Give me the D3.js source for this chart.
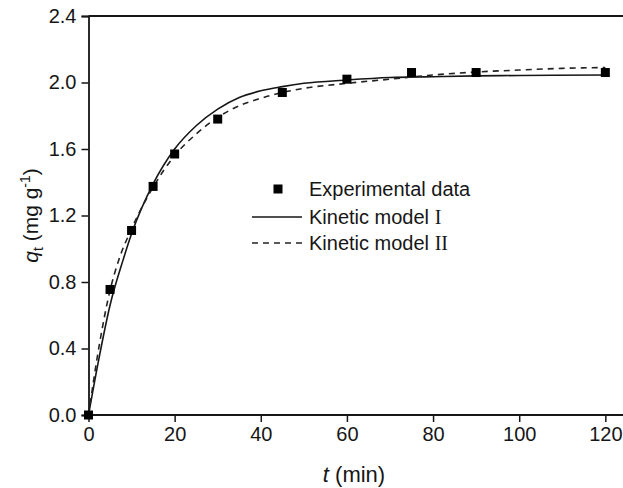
<!DOCTYPE html>
<html>
<head>
<meta charset="utf-8">
<script src="https://cdn.jsdelivr.net/npm/d3@7"></script>
<style>
  body { margin: 0; background: #fff; }
  svg { display: block; font-family: 'Liberation Sans', Arial, sans-serif; }
</style>
</head>
<body>
<svg id="chart" width="623" height="488"></svg>
<script>
// experimental points
const expT = [0, 5, 10, 15, 20, 30, 45, 60, 75, 90, 120];
const expQ = [0, 0.755, 1.11, 1.375, 1.57, 1.78, 1.94, 2.02, 2.06, 2.06, 2.06];

// kinetic model I (solid)
const m1T = [0, 2.5, 5, 8, 10, 15, 20, 25, 30, 35, 40, 45, 50, 60, 70, 80, 90, 100, 120];
const m1Q = [0, 0.35, 0.66, 0.93, 1.09, 1.39, 1.60, 1.74, 1.84, 1.91, 1.95, 1.975, 1.995, 2.015, 2.03, 2.035, 2.04, 2.042, 2.045];

// kinetic model II (dashed)
const m2T = [0, 2.5, 5, 7, 10, 15, 20, 25, 30, 35, 40, 45, 50, 60, 70, 80, 90, 100, 110, 120];
const m2Q = [0, 0.42, 0.75, 0.93, 1.12, 1.37, 1.56, 1.69, 1.79, 1.86, 1.905, 1.94, 1.965, 1.995, 2.02, 2.045, 2.063, 2.075, 2.085, 2.09];

const xTicks = [0, 20, 40, 60, 80, 100, 120];
const yTicks = [0.0, 0.4, 0.8, 1.2, 1.6, 2.0, 2.4];

const svg = d3.select('#chart');
const margin = { top: 16, right: 0, bottom: 73, left: 88.5 };
const width = 623;
const height = 488;
const ink = '#161616';

const x = d3.scaleLinear().domain([0, 124.1]).range([margin.left, width - margin.right]);
const y = d3.scaleLinear().domain([0, 2.4]).range([height - margin.bottom, margin.top]);

// frame top line
svg.append('line')
  .attr('x1', margin.left).attr('x2', width)
  .attr('y1', y(2.4)).attr('y2', y(2.4))
  .attr('stroke', ink).attr('stroke-width', 1.8);

const xAxis = svg.append('g')
  .attr('transform', `translate(0,${y(0)})`)
  .call(d3.axisBottom(x).tickValues(xTicks).tickSize(7).tickPadding(5).tickFormat(d3.format('d')));
const yAxis = svg.append('g')
  .attr('transform', `translate(${margin.left},0)`)
  .call(d3.axisLeft(y).tickValues(yTicks).tickSize(7).tickPadding(5).tickFormat(d3.format('.1f')));

[xAxis, yAxis].forEach((g) => {
  g.select('.domain').attr('stroke', ink).attr('stroke-width', 1.8);
  g.selectAll('.tick line').attr('stroke', ink).attr('stroke-width', 1.5);
  g.selectAll('.tick text')
    .attr('fill', ink)
    .attr('font-size', 20)
    .attr('font-family', "'Liberation Sans', Arial, sans-serif");
});
xAxis.select('.domain').attr('d', `M${margin.left},0H${width}`);

const line = d3.line()
  .x((d) => x(d[0]))
  .y((d) => y(d[1]))
  .curve(d3.curveMonotoneX);

svg.append('path')
  .datum(m1T.map((t, i) => [t, m1Q[i]]))
  .attr('fill', 'none')
  .attr('stroke', ink)
  .attr('stroke-width', 1.6)
  .attr('d', line);

svg.append('path')
  .datum(m2T.map((t, i) => [t, m2Q[i]]))
  .attr('fill', 'none')
  .attr('stroke', '#222')
  .attr('stroke-width', 1.6)
  .attr('stroke-dasharray', '6,5')
  .attr('d', line);

const sq = 9;
svg.selectAll('rect.pt')
  .data(expT.map((t, i) => [t, expQ[i]]))
  .join('rect')
  .attr('class', 'pt')
  .attr('x', (d) => x(d[0]) - sq / 2)
  .attr('y', (d) => y(d[1]) - sq / 2)
  .attr('width', sq)
  .attr('height', sq)
  .attr('fill', '#000');

// legend
const serif = "'Liberation Serif', 'Times New Roman', serif";
const legend = svg.append('g').attr('font-size', 20).attr('fill', ink);
legend.append('rect')
  .attr('x', 278 - sq / 2).attr('y', 189 - sq / 2)
  .attr('width', sq).attr('height', sq).attr('fill', '#000');
legend.append('text').attr('x', 309).attr('y', 196).text('Experimental data');

legend.append('line')
  .attr('x1', 252).attr('x2', 302).attr('y1', 217).attr('y2', 217)
  .attr('stroke', ink).attr('stroke-width', 1.6);
const t1 = legend.append('text').attr('x', 309).attr('y', 224);
t1.append('tspan').text('Kinetic model ');
t1.append('tspan').attr('font-family', serif).text('I');

legend.append('line')
  .attr('x1', 252).attr('x2', 302).attr('y1', 243).attr('y2', 243)
  .attr('stroke', '#222').attr('stroke-width', 1.6).attr('stroke-dasharray', '6,5');
const t2 = legend.append('text').attr('x', 309).attr('y', 250);
t2.append('tspan').text('Kinetic model ');
t2.append('tspan').attr('font-family', serif).text('II');

// axis titles
const xt = svg.append('text')
  .attr('x', 354).attr('y', 482)
  .attr('text-anchor', 'middle').attr('font-size', 22).attr('fill', ink);
xt.append('tspan').attr('font-style', 'italic').text('t');
xt.append('tspan').text(' (min)');

const yt = svg.append('text')
  .attr('transform', `translate(38,${(y(0) + y(2.4)) / 2}) rotate(-90)`)
  .attr('text-anchor', 'middle').attr('font-size', 21).attr('fill', ink);
yt.append('tspan').attr('font-style', 'italic').text('q');
yt.append('tspan').attr('font-size', 14).attr('dy', 5).text('t');
yt.append('tspan').attr('dy', -5).text(' (mg g');
yt.append('tspan').attr('font-size', 14).attr('dy', -8).text('-1');
yt.append('tspan').attr('dy', 8).text(')');
</script>
</body>
</html>
